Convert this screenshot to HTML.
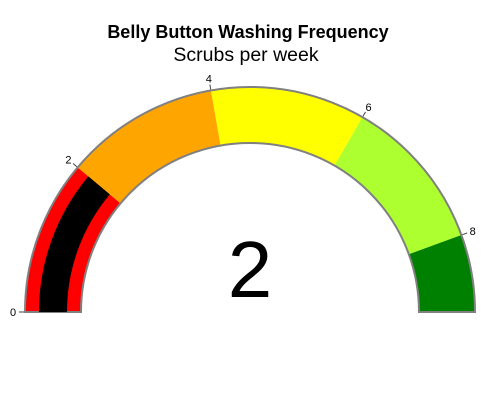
<!DOCTYPE html>
<html><head><meta charset="utf-8"><style>
body{margin:0;background:#fff;}
svg{display:block;font-family:"Liberation Sans",Arial,sans-serif;}
</style></head><body>
<svg id="chart" width="500" height="400">
<text x="248" y="38" text-anchor="middle" font-size="18" font-weight="bold">Belly Button Washing Frequency</text>
<text x="246" y="61" text-anchor="middle" font-size="19.5">Scrubs per week</text>
<g id="steps"></g><g id="bar"></g><g id="ticks"></g>
<text id="val" x="250" y="297" text-anchor="middle" font-size="80"></text>
</svg>
<script>
const stepStarts=[0,2,4,6,8];
const stepEnds=[2,4,6,8,9];
const stepColors=["red","orange","yellow","greenyellow","green"];
const tickValues=[0,2,4,6,8];
const gaugeMin=0, gaugeMax=9;
const gaugeValue=2;
const cx=250, cy=312, R=225, r=169;
const NS="http://www.w3.org/2000/svg";
function ang(v){return Math.PI*(1-(v-gaugeMin)/(gaugeMax-gaugeMin));}
function pt(v,rad){const a=ang(v);return [cx+rad*Math.cos(a),cy-rad*Math.sin(a)];}
function arc(v0,v1,ro,ri){
 const a=pt(v0,ro),b=pt(v1,ro),c=pt(v1,ri),d=pt(v0,ri);
 const large=(v1-v0)/(gaugeMax-gaugeMin)>1?1:0;
 return `M${a[0]},${a[1]}A${ro},${ro} 0 ${large} 1 ${b[0]},${b[1]}L${c[0]},${c[1]}A${ri},${ri} 0 ${large} 0 ${d[0]},${d[1]}Z`;
}
const steps=document.getElementById('steps');
stepStarts.forEach((s,i)=>{
 const p=document.createElementNS(NS,'path');
 p.setAttribute('d',arc(s,stepEnds[i],R,r));
 p.setAttribute('fill',stepColors[i]);
 
 
 steps.appendChild(p);
});
const border=document.createElementNS(NS,'path');
border.setAttribute('d',arc(gaugeMin,gaugeMax,R,r));
border.setAttribute('fill','none');border.setAttribute('stroke','#808080');border.setAttribute('stroke-width','2');


steps.appendChild(border);
const bar=document.createElementNS(NS,'path');
bar.setAttribute('d',arc(gaugeMin,gaugeValue,211,183));
bar.setAttribute('fill','black');


document.getElementById('bar').appendChild(bar);
const ticks=document.getElementById('ticks');
tickValues.forEach(v=>{
 const a=pt(v,R+1),b=pt(v,R+6),t=pt(v,R+12);
 const l=document.createElementNS(NS,'line');
 l.setAttribute('x1',a[0]);l.setAttribute('y1',a[1]);l.setAttribute('x2',b[0]);l.setAttribute('y2',b[1]);
 l.setAttribute('stroke','#444');
 
 
 ticks.appendChild(l);
 const tx=document.createElementNS(NS,'text');
 tx.setAttribute('x',t[0]);tx.setAttribute('y',t[1]+4);
 tx.setAttribute('text-anchor','middle');tx.setAttribute('font-size','11');
 tx.textContent=v;
 
 
 ticks.appendChild(tx);
});
document.getElementById('val').textContent=gaugeValue;
</script>
</body></html>
